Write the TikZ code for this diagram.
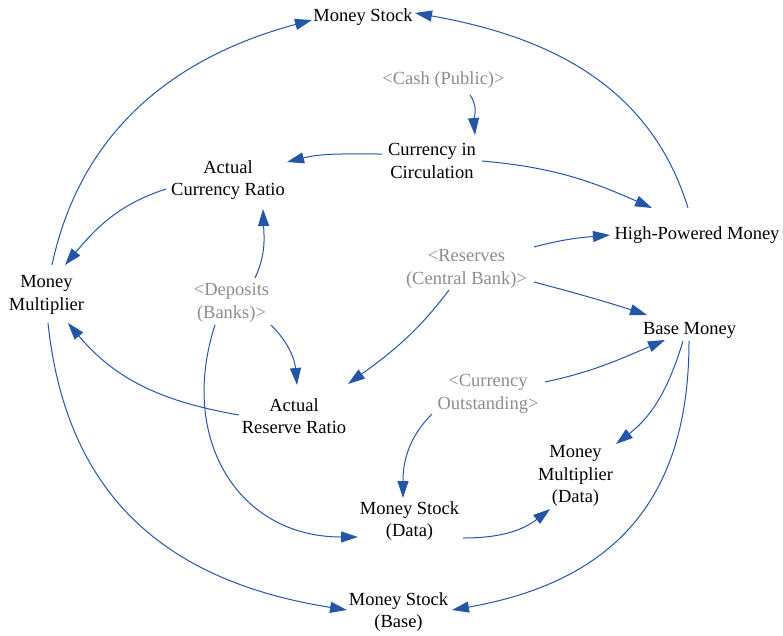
\documentclass[tikz,border=0pt]{standalone}
\usepackage{fontspec}
\setmainfont{Liberation Serif}
\usetikzlibrary{arrows.meta,calc}
\definecolor{linkblue}{RGB}{36,86,168}
\definecolor{ghostgrey}{RGB}{140,140,140}
\tikzset{
  var/.style={align=center,inner sep=0pt,font=\fontsize{18.5}{22.5}\selectfont,text=black},
  shadow var/.style={var,text=ghostgrey},
  one line/.style={text depth=0pt},
  link/.style={draw=linkblue,line width=1pt,-{Triangle[length=17pt,width=11pt]},fill=none}
}
\begin{document}
\begin{tikzpicture}[x=1pt,y=-1pt]
\useasboundingbox (0,0) rectangle (783,635);
% nodes
\node[var,one line] (ms) at (363,15) {Money Stock};
\node[shadow var,one line] (cash) at (443.5,78) {<Cash (Public)>};
\node[var] (cic) at (432,161) {Currency in\\Circulation};
\node[var] (acr) at (228,180) {Actual\\Currency Ratio};
\node[var,one line] (hpm) at (697,233) {High-Powered Money};
\node[var] (mm) at (46.5,295) {Money\\Multiplier};
\node[shadow var] (dep) at (231.5,303) {<Deposits\\(Banks)>};
\node[shadow var] (res) at (466.5,269) {<Reserves\\(Central Bank)>};
\node[var,one line] (bm) at (689.5,328) {Base Money};
\node[var] (arr) at (294,416) {Actual\\Reserve Ratio};
\node[shadow var] (co) at (488,394) {<Currency\\Outstanding>};
\node[var] (mmd) at (575.5,476) {Money\\Multiplier\\(Data)};
\node[var] (msd) at (409.5,521) {Money Stock\\(Data)};
\node[var] (msb) at (398.5,612) {Money Stock\\(Base)};
% connectors
\draw[link] ($(mm)+(5.5,-30)$) to[out=78,in=195] ($(ms)+(-51,5)$);
\draw[link] ($(hpm)+(-9,-25)$) to[out=107,in=-10] ($(ms)+(52,-2)$);
\draw[link] ($(cash)+(26.5,17)$) to[out=-55,in=95] ($(cic)+(43,-26)$);
\draw[link] ($(cic)+(-50,-7)$) to[out=180,in=14] ($(acr)+(59,-18)$);
\draw[link] ($(cic)+(50,0)$) to[out=-5,in=156] ($(hpm)+(-45,-25)$);
\draw[link] ($(res)+(67.5,-22)$) to[out=15,in=185] ($(hpm)+(-87,2)$);
\draw[link] ($(res)+(67.5,13)$) to[out=-15,in=162] ($(bm)+(-42.5,-13)$);
\draw[link] ($(res)+(-17.5,21)$) to[out=-127,in=36] ($(arr)+(54,-32)$);
\draw[link] ($(acr)+(-62,9)$) to[out=198,in=50] ($(mm)+(18.5,-30)$);
\draw[link] ($(dep)+(23.5,-25)$) to[out=65,in=-88] ($(acr)+(35,29)$);
\draw[link] ($(dep)+(39.5,22)$) to[out=-45,in=95] ($(arr)+(3,-31)$);
\draw[link] ($(arr)+(-55,-1)$) to[out=170,in=-50] ($(mm)+(21.5,28)$);
\draw[link] ($(dep)+(-16.5,22)$) to[out=-108,in=180,looseness=1.2] ($(msd)+(-51.5,16)$);
\draw[link] ($(mm)+(1.5,28)$) to[out=-84,in=171,looseness=1.1] ($(msb)+(-51.5,-2)$);
\draw[link] ($(bm)+(-0.5,13)$) to[out=-90,in=10,looseness=1.15] ($(msb)+(53.5,-2)$);
\draw[link] ($(bm)+(-6.5,13)$) to[out=-107,in=38] ($(mmd)+(40.5,-32)$);
\draw[link] ($(co)+(57,-12)$) to[out=12,in=203] ($(bm)+(-24.5,12)$);
\draw[link] ($(co)+(-56,20)$) to[out=-135,in=90] ($(msd)+(-6.5,-23)$);
\draw[link] ($(msd)+(53.5,17)$) to[out=0,in=218] ($(mmd)+(-25.5,33)$);
\end{tikzpicture}
\end{document}
